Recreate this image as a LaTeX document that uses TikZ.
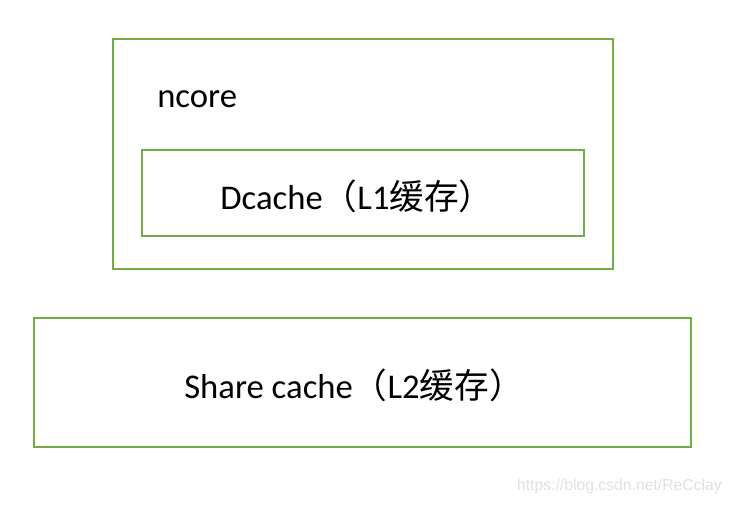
\documentclass[tikz,border=0pt]{standalone}
\usepackage{fontspec}
\setmainfont{Carlito}
\newfontfamily\cjk{Noto Sans CJK SC}
\newfontfamily\markfont{Liberation Sans}
\usetikzlibrary{positioning}
\definecolor{boxgreen}{RGB}{112,173,71}

\begin{document}
\begin{tikzpicture}[
  x=0.75pt, y=-0.75pt,
  box/.style={rectangle, draw=boxgreen, line width=1.5pt, inner sep=0pt},
  label/.style={font=\fontsize{26}{31}\selectfont, inner sep=0pt}
  ]
  \useasboundingbox (0,0) rectangle (732,504);
  \node[box, minimum width=375pt, minimum height=172.5pt] (core) at (363,154) {};
  \node[box, minimum width=331.5pt, minimum height=64.5pt] (dcache) at (363,193) {};
  \node[box, minimum width=492.75pt, minimum height=96.75pt] (share) at (362.5,382.5) {};

  \node[label, anchor=west] (coretext) at (157,99) {ncore};
  \node[label] (dtext) at (357,196) {Dcache{\cjk（}L1{\cjk 缓存）}};
  \node[label] (stext) at (354,385) {Share cache{\cjk（}L2{\cjk 缓存）}};

  \node[font=\markfont\fontsize{11.8}{14}\selectfont, text=black!12, anchor=east, inner sep=0pt] (mark) at (722,486) {https://blog.csdn.net/ReCclay};
\end{tikzpicture}
\end{document}
